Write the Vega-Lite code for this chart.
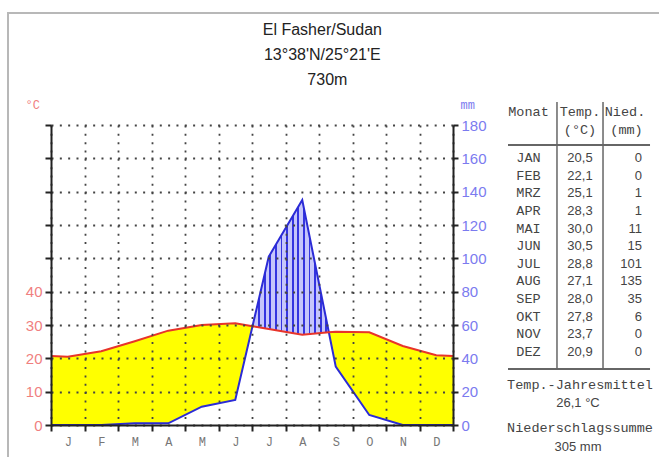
{
  "$schema": "https://vega.github.io/schema/vega-lite/v6.json",
  "width": 402,
  "height": 300,
  "autosize": {"type": "none"},
  "padding": {"left": 51, "top": 125, "right": 206, "bottom": 32},
  "background": "white",
  "config": {
    "view": {"stroke": null},
    "locale": {"number": {"decimal": ",", "thousands": ".", "grouping": [3], "currency": ["", " €"]}}
  },
  "data": {"values": [
    {"m": 0, "tmm": 41.4, "p": 0},
    {"mon": "JAN", "m": 0.5, "t": 20.5, "tmm": 41, "p": 0},
    {"mon": "FEB", "m": 1.5, "t": 22.1, "tmm": 44.2, "p": 0},
    {"mon": "MRZ", "m": 2.5, "t": 25.1, "tmm": 50.2, "p": 1},
    {"mon": "APR", "m": 3.5, "t": 28.3, "tmm": 56.6, "p": 1},
    {"mon": "MAI", "m": 4.5, "t": 30.0, "tmm": 60, "p": 11},
    {"mon": "JUN", "m": 5.5, "t": 30.5, "tmm": 61, "p": 15},
    {"m": 6.0145, "tmm": 59.25, "p": 59.25},
    {"mon": "JUL", "m": 6.5, "t": 28.8, "tmm": 57.6, "p": 101},
    {"mon": "AUG", "m": 7.5, "t": 27.1, "tmm": 54.2, "p": 135},
    {"m": 8.2937, "tmm": 55.63, "p": 55.63},
    {"mon": "SEP", "m": 8.5, "t": 28.0, "tmm": 56, "p": 35},
    {"mon": "OKT", "m": 9.5, "t": 27.8, "tmm": 55.6, "p": 6},
    {"mon": "NOV", "m": 10.5, "t": 23.7, "tmm": 47.4, "p": 0},
    {"mon": "DEZ", "m": 11.5, "t": 20.9, "tmm": 41.8, "p": 0},
    {"m": 12, "tmm": 41.4, "p": 0}
  ]},
  "resolve": {"scale": {"y": "independent"}},
  "layer": [
    {
      "mark": {"type": "area", "color": "#ffff00", "opacity": 1},
      "encoding": {
        "x": {"field": "m", "type": "quantitative", "scale": {"domain": [0, 12], "nice": false, "zero": false},
          "axis": {"values": [0,1,2,3,4,5,6,7,8,9,10,11,12], "title": null,
            "labelExpr": "['J','F','M','A','M','J','J','A','S','O','N','D',''][datum.value]",
            "labelOffset": 16.75, "labelFlush": false, "labelOverlap": false,
            "labelFont": "Liberation Mono", "labelFontSize": 12, "labelColor": "#777", "labelPadding": 5,
            "domainColor": "#222", "domainWidth": 2, "tickColor": "#222", "tickWidth": 2, "tickSize": 6,
            "grid": true, "gridColor": "#444", "gridDash": [2, 6.33], "gridWidth": 1.8, "zindex": 1}},
        "y": {"field": "p", "type": "quantitative", "scale": {"domain": [0, 180], "nice": false, "zero": false}, "axis": null},
        "y2": {"field": "tmm"}
      }
    },
    {
      "data": {"values": [{}]},
      "mark": {"type": "rect", "fillOpacity": 0, "stroke": "#b8b8b8", "strokeWidth": 2},
      "encoding": {
        "x": {"datum": -1.2836, "type": "quantitative", "scale": {"domain": [0, 12], "nice": false, "zero": false}, "axis": {"title": null, "values": [0,1,2,3,4,5,6,7,8,9,10,11,12]}},
        "x2": {"datum": 18.5},
        "y": {"datum": 247.2, "type": "quantitative", "scale": {"domain": [0, 180], "nice": false, "zero": false}, "axis": null},
        "y2": {"datum": -25}
      }
    },
    {
      "transform": [{"filter": "datum.m >= 6.01 && datum.m <= 8.3"}],
      "mark": {"type": "area", "opacity": 1, "color": {"gradient": "linear", "x1": 0, "x2": 1, "y1": 0, "y2": 0, "stops": [
        {"offset": 0, "color": "#3535e0"}, {"offset": 0.024, "color": "#3535e0"}, {"offset": 0.024, "color": "#c6c6fb"}, {"offset": 0.0734, "color": "#c6c6fb"},
        {"offset": 0.0734, "color": "#3535e0"}, {"offset": 0.0974, "color": "#3535e0"}, {"offset": 0.0974, "color": "#c6c6fb"}, {"offset": 0.1468, "color": "#c6c6fb"},
        {"offset": 0.1468, "color": "#3535e0"}, {"offset": 0.1708, "color": "#3535e0"}, {"offset": 0.1708, "color": "#c6c6fb"}, {"offset": 0.2202, "color": "#c6c6fb"},
        {"offset": 0.2202, "color": "#3535e0"}, {"offset": 0.2442, "color": "#3535e0"}, {"offset": 0.2442, "color": "#c6c6fb"}, {"offset": 0.2936, "color": "#c6c6fb"},
        {"offset": 0.2936, "color": "#3535e0"}, {"offset": 0.3176, "color": "#3535e0"}, {"offset": 0.3176, "color": "#c6c6fb"}, {"offset": 0.367, "color": "#c6c6fb"},
        {"offset": 0.367, "color": "#3535e0"}, {"offset": 0.391, "color": "#3535e0"}, {"offset": 0.391, "color": "#c6c6fb"}, {"offset": 0.4404, "color": "#c6c6fb"},
        {"offset": 0.4404, "color": "#3535e0"}, {"offset": 0.4644, "color": "#3535e0"}, {"offset": 0.4644, "color": "#c6c6fb"}, {"offset": 0.5138, "color": "#c6c6fb"},
        {"offset": 0.5138, "color": "#3535e0"}, {"offset": 0.5378, "color": "#3535e0"}, {"offset": 0.5378, "color": "#c6c6fb"}, {"offset": 0.5872, "color": "#c6c6fb"},
        {"offset": 0.5872, "color": "#3535e0"}, {"offset": 0.6112, "color": "#3535e0"}, {"offset": 0.6112, "color": "#c6c6fb"}, {"offset": 0.6606, "color": "#c6c6fb"},
        {"offset": 0.6606, "color": "#3535e0"}, {"offset": 0.6846, "color": "#3535e0"}, {"offset": 0.6846, "color": "#c6c6fb"}, {"offset": 0.734, "color": "#c6c6fb"},
        {"offset": 0.734, "color": "#3535e0"}, {"offset": 0.758, "color": "#3535e0"}, {"offset": 0.758, "color": "#c6c6fb"}, {"offset": 0.8074, "color": "#c6c6fb"},
        {"offset": 0.8074, "color": "#3535e0"}, {"offset": 0.8314, "color": "#3535e0"}, {"offset": 0.8314, "color": "#c6c6fb"}, {"offset": 0.8808, "color": "#c6c6fb"},
        {"offset": 0.8808, "color": "#3535e0"}, {"offset": 0.9048, "color": "#3535e0"}, {"offset": 0.9048, "color": "#c6c6fb"}, {"offset": 0.9542, "color": "#c6c6fb"},
        {"offset": 0.9542, "color": "#3535e0"}, {"offset": 0.9782, "color": "#3535e0"}, {"offset": 0.9782, "color": "#c6c6fb"}, {"offset": 1, "color": "#c6c6fb"}
      ]}},
      "encoding": {
        "x": {"field": "m", "type": "quantitative", "scale": {"domain": [0, 12], "nice": false, "zero": false}, "axis": {"title": null, "values": [0,1,2,3,4,5,6,7,8,9,10,11,12]}},
        "y": {"field": "tmm", "type": "quantitative", "scale": {"domain": [0, 180], "nice": false, "zero": false}, "axis": null},
        "y2": {"field": "p"}
      }
    },
    {
      "mark": {"type": "line", "color": "#2b2bd6", "strokeWidth": 2},
      "encoding": {
        "x": {"field": "m", "type": "quantitative", "scale": {"domain": [0, 12], "nice": false, "zero": false}, "axis": {"title": null, "values": [0,1,2,3,4,5,6,7,8,9,10,11,12]}},
        "y": {"field": "p", "type": "quantitative", "scale": {"domain": [0, 180], "nice": false, "zero": false},
          "axis": {"orient": "right", "values": [0,20,40,60,80,100,120,140,160,180], "title": "mm",
            "titleAngle": 0, "titleX": 7, "titleY": -17, "titleAlign": "left", "titleBaseline": "alphabetic",
            "titleColor": "#7b7bef", "titleFont": "Liberation Mono", "titleFontSize": 12, "titleFontWeight": "normal",
            "labelColor": "#7b7bef", "labelFont": "Liberation Sans", "labelFontSize": 15, "labelPadding": 3,
            "domainColor": "#222", "domainWidth": 2, "tickColor": "#222", "tickWidth": 2, "tickSize": 5,
            "grid": false, "zindex": 1}}
      }
    },
    {
      "mark": {"type": "line", "color": "#e8342a", "strokeWidth": 2},
      "encoding": {
        "x": {"field": "m", "type": "quantitative", "scale": {"domain": [0, 12], "nice": false, "zero": false}, "axis": {"title": null, "values": [0,1,2,3,4,5,6,7,8,9,10,11,12]}},
        "y": {"field": "tmm", "type": "quantitative", "scale": {"domain": [0, 180], "nice": false, "zero": false},
          "axis": {"orient": "left", "values": [0,20,40,60,80,100,120,140,160,180], "title": "°C",
            "labelExpr": "datum.value <= 80 ? '' + (datum.value / 2) : ''",
            "titleAngle": 0, "titleX": -26, "titleY": -17, "titleAlign": "left", "titleBaseline": "alphabetic",
            "titleColor": "#f07f7f", "titleFont": "Liberation Mono", "titleFontSize": 12, "titleFontWeight": "normal",
            "labelColor": "#f07f7f", "labelFont": "Liberation Sans", "labelFontSize": 15, "labelPadding": 3,
            "domainColor": "#222", "domainWidth": 2, "tickColor": "#222", "tickWidth": 2, "tickSize": 6,
            "grid": true, "gridColor": "#444", "gridDash": [2, 6.33], "gridWidth": 1.8, "zindex": 1}}
      }
    },
    {
      "data": {"values": [{}]},
      "mark": {"type": "text", "text": "El Fasher/Sudan", "font": "Liberation Sans", "fontSize": 16, "color": "#222", "align": "center", "baseline": "middle"},
      "encoding": {
        "x": {"datum": 8.1, "type": "quantitative", "scale": {"domain": [0, 12], "nice": false, "zero": false}, "axis": {"title": null, "values": [0,1,2,3,4,5,6,7,8,9,10,11,12]}},
        "y": {"datum": 237, "type": "quantitative", "scale": {"domain": [0, 180], "nice": false, "zero": false}, "axis": null}
      }
    },
    {
      "data": {"values": [{}]},
      "mark": {"type": "text", "text": "13°38'N/25°21'E", "font": "Liberation Sans", "fontSize": 16, "color": "#222", "align": "center", "baseline": "middle"},
      "encoding": {
        "x": {"datum": 8.1, "type": "quantitative", "scale": {"domain": [0, 12], "nice": false, "zero": false}, "axis": {"title": null, "values": [0,1,2,3,4,5,6,7,8,9,10,11,12]}},
        "y": {"datum": 222, "type": "quantitative", "scale": {"domain": [0, 180], "nice": false, "zero": false}, "axis": null}
      }
    },
    {
      "data": {"values": [{}]},
      "mark": {"type": "text", "text": "730m", "font": "Liberation Sans", "fontSize": 16, "color": "#222", "align": "center", "baseline": "middle"},
      "encoding": {
        "x": {"datum": 8.25, "type": "quantitative", "scale": {"domain": [0, 12], "nice": false, "zero": false}, "axis": {"title": null, "values": [0,1,2,3,4,5,6,7,8,9,10,11,12]}},
        "y": {"datum": 207, "type": "quantitative", "scale": {"domain": [0, 180], "nice": false, "zero": false}, "axis": null}
      }
    },
    {
      "transform": [{"filter": "isValid(datum.mon)"}],
      "mark": {"type": "text", "font": "Liberation Mono", "fontSize": 13.5, "color": "#444", "align": "center", "baseline": "middle"},
      "encoding": {
        "text": {"field": "mon"},
        "x": {"datum": 14.254, "type": "quantitative", "scale": {"domain": [0, 12], "nice": false, "zero": false}, "axis": {"title": null, "values": [0,1,2,3,4,5,6,7,8,9,10,11,12]}},
        "y": {"field": "m", "type": "quantitative", "scale": {"domain": [-1.371, 15.639], "reverse": true, "nice": false, "zero": false}, "axis": null}
      }
    },
    {
      "transform": [{"filter": "isValid(datum.mon)"}],
      "mark": {"type": "text", "font": "Liberation Sans", "fontSize": 13, "color": "#444", "align": "center", "baseline": "middle"},
      "encoding": {
        "text": {"field": "t", "format": ".1f"},
        "x": {"datum": 15.791, "type": "quantitative", "scale": {"domain": [0, 12], "nice": false, "zero": false}, "axis": {"title": null, "values": [0,1,2,3,4,5,6,7,8,9,10,11,12]}},
        "y": {"field": "m", "type": "quantitative", "scale": {"domain": [-1.371, 15.639], "reverse": true, "nice": false, "zero": false}, "axis": null}
      }
    },
    {
      "transform": [{"filter": "isValid(datum.mon)"}],
      "mark": {"type": "text", "font": "Liberation Sans", "fontSize": 13, "color": "#444", "align": "right", "baseline": "middle"},
      "encoding": {
        "text": {"field": "p", "format": "d"},
        "x": {"datum": 17.642, "type": "quantitative", "scale": {"domain": [0, 12], "nice": false, "zero": false}, "axis": {"title": null, "values": [0,1,2,3,4,5,6,7,8,9,10,11,12]}},
        "y": {"field": "m", "type": "quantitative", "scale": {"domain": [-1.371, 15.639], "reverse": true, "nice": false, "zero": false}, "axis": null}
      }
    },
    {
      "data": {"values": [{}]},
      "mark": {"type": "text", "text": "Monat", "font": "Liberation Mono", "fontSize": 13.5, "color": "#444", "align": "center", "baseline": "middle"},
      "encoding": {
        "x": {"datum": 14.254, "type": "quantitative", "scale": {"domain": [0, 12], "nice": false, "zero": false}, "axis": {"title": null, "values": [0,1,2,3,4,5,6,7,8,9,10,11,12]}},
        "y": {"datum": -2.108, "type": "quantitative", "scale": {"domain": [-1.371, 15.639], "reverse": true, "nice": false, "zero": false}, "axis": null}
      }
    },
    {
      "data": {"values": [{}]},
      "mark": {"type": "text", "text": "Temp.", "font": "Liberation Mono", "fontSize": 13.5, "color": "#444", "align": "center", "baseline": "middle"},
      "encoding": {
        "x": {"datum": 15.791, "type": "quantitative", "scale": {"domain": [0, 12], "nice": false, "zero": false}, "axis": {"title": null, "values": [0,1,2,3,4,5,6,7,8,9,10,11,12]}},
        "y": {"datum": -2.108, "type": "quantitative", "scale": {"domain": [-1.371, 15.639], "reverse": true, "nice": false, "zero": false}, "axis": null}
      }
    },
    {
      "data": {"values": [{}]},
      "mark": {"type": "text", "text": "Nied.", "font": "Liberation Mono", "fontSize": 13.5, "color": "#444", "align": "center", "baseline": "middle"},
      "encoding": {
        "x": {"datum": 17.134, "type": "quantitative", "scale": {"domain": [0, 12], "nice": false, "zero": false}, "axis": {"title": null, "values": [0,1,2,3,4,5,6,7,8,9,10,11,12]}},
        "y": {"datum": -2.108, "type": "quantitative", "scale": {"domain": [-1.371, 15.639], "reverse": true, "nice": false, "zero": false}, "axis": null}
      }
    },
    {
      "data": {"values": [{}]},
      "mark": {"type": "text", "text": "(°C)", "font": "Liberation Mono", "fontSize": 13.5, "color": "#444", "align": "center", "baseline": "middle"},
      "encoding": {
        "x": {"datum": 15.791, "type": "quantitative", "scale": {"domain": [0, 12], "nice": false, "zero": false}, "axis": {"title": null, "values": [0,1,2,3,4,5,6,7,8,9,10,11,12]}},
        "y": {"datum": -1.088, "type": "quantitative", "scale": {"domain": [-1.371, 15.639], "reverse": true, "nice": false, "zero": false}, "axis": null}
      }
    },
    {
      "data": {"values": [{}]},
      "mark": {"type": "text", "text": "(mm)", "font": "Liberation Mono", "fontSize": 13.5, "color": "#444", "align": "center", "baseline": "middle"},
      "encoding": {
        "x": {"datum": 17.179, "type": "quantitative", "scale": {"domain": [0, 12], "nice": false, "zero": false}, "axis": {"title": null, "values": [0,1,2,3,4,5,6,7,8,9,10,11,12]}},
        "y": {"datum": -1.088, "type": "quantitative", "scale": {"domain": [-1.371, 15.639], "reverse": true, "nice": false, "zero": false}, "axis": null}
      }
    },
    {
      "data": {"values": [{}]},
      "mark": {"type": "rule", "color": "#666", "strokeWidth": 2},
      "encoding": {
        "x": {"datum": 13.642, "type": "quantitative", "scale": {"domain": [0, 12], "nice": false, "zero": false}, "axis": {"title": null, "values": [0,1,2,3,4,5,6,7,8,9,10,11,12]}},
        "x2": {"datum": 17.881},
        "y": {"datum": -0.237, "type": "quantitative", "scale": {"domain": [-1.371, 15.639], "reverse": true, "nice": false, "zero": false}, "axis": null}
      }
    },
    {
      "data": {"values": [{}]},
      "mark": {"type": "rule", "color": "#666", "strokeWidth": 2},
      "encoding": {
        "x": {"datum": 13.642, "type": "quantitative", "scale": {"domain": [0, 12], "nice": false, "zero": false}, "axis": {"title": null, "values": [0,1,2,3,4,5,6,7,8,9,10,11,12]}},
        "x2": {"datum": 17.881},
        "y": {"datum": 12.464, "type": "quantitative", "scale": {"domain": [-1.371, 15.639], "reverse": true, "nice": false, "zero": false}, "axis": null}
      }
    },
    {
      "data": {"values": [{}]},
      "mark": {"type": "rule", "color": "#666", "strokeWidth": 1.5},
      "encoding": {
        "x": {"datum": 15.104, "type": "quantitative", "scale": {"domain": [0, 12], "nice": false, "zero": false}, "axis": {"title": null, "values": [0,1,2,3,4,5,6,7,8,9,10,11,12]}},
        "y": {"datum": -2.675, "type": "quantitative", "scale": {"domain": [-1.371, 15.639], "reverse": true, "nice": false, "zero": false}, "axis": null},
        "y2": {"datum": 12.464}
      }
    },
    {
      "data": {"values": [{}]},
      "mark": {"type": "rule", "color": "#666", "strokeWidth": 1.5},
      "encoding": {
        "x": {"datum": 16.478, "type": "quantitative", "scale": {"domain": [0, 12], "nice": false, "zero": false}, "axis": {"title": null, "values": [0,1,2,3,4,5,6,7,8,9,10,11,12]}},
        "y": {"datum": -2.675, "type": "quantitative", "scale": {"domain": [-1.371, 15.639], "reverse": true, "nice": false, "zero": false}, "axis": null},
        "y2": {"datum": 12.464}
      }
    },
    {
      "data": {"values": [{}]},
      "mark": {"type": "text", "text": "Temp.-Jahresmittel", "font": "Liberation Mono", "fontSize": 13.5, "color": "#444", "align": "center", "baseline": "middle"},
      "encoding": {
        "x": {"datum": 15.791, "type": "quantitative", "scale": {"domain": [0, 12], "nice": false, "zero": false}, "axis": {"title": null, "values": [0,1,2,3,4,5,6,7,8,9,10,11,12]}},
        "y": {"datum": 13.371, "type": "quantitative", "scale": {"domain": [-1.371, 15.639], "reverse": true, "nice": false, "zero": false}, "axis": null}
      }
    },
    {
      "data": {"values": [{}]},
      "mark": {"type": "text", "text": "26,1 °C", "font": "Liberation Sans", "fontSize": 13, "color": "#444", "align": "center", "baseline": "middle"},
      "encoding": {
        "x": {"datum": 15.731, "type": "quantitative", "scale": {"domain": [0, 12], "nice": false, "zero": false}, "axis": {"title": null, "values": [0,1,2,3,4,5,6,7,8,9,10,11,12]}},
        "y": {"datum": 14.392, "type": "quantitative", "scale": {"domain": [-1.371, 15.639], "reverse": true, "nice": false, "zero": false}, "axis": null}
      }
    },
    {
      "data": {"values": [{}]},
      "mark": {"type": "text", "text": "Niederschlagssumme", "font": "Liberation Mono", "fontSize": 13.5, "color": "#444", "align": "center", "baseline": "middle"},
      "encoding": {
        "x": {"datum": 15.791, "type": "quantitative", "scale": {"domain": [0, 12], "nice": false, "zero": false}, "axis": {"title": null, "values": [0,1,2,3,4,5,6,7,8,9,10,11,12]}},
        "y": {"datum": 15.81, "type": "quantitative", "scale": {"domain": [-1.371, 15.639], "reverse": true, "nice": false, "zero": false}, "axis": null}
      }
    },
    {
      "data": {"values": [{}]},
      "mark": {"type": "text", "text": "305 mm", "font": "Liberation Sans", "fontSize": 13, "color": "#444", "align": "center", "baseline": "middle"},
      "encoding": {
        "x": {"datum": 15.731, "type": "quantitative", "scale": {"domain": [0, 12], "nice": false, "zero": false}, "axis": {"title": null, "values": [0,1,2,3,4,5,6,7,8,9,10,11,12]}},
        "y": {"datum": 16.887, "type": "quantitative", "scale": {"domain": [-1.371, 15.639], "reverse": true, "nice": false, "zero": false}, "axis": null}
      }
    }
  ]
}
